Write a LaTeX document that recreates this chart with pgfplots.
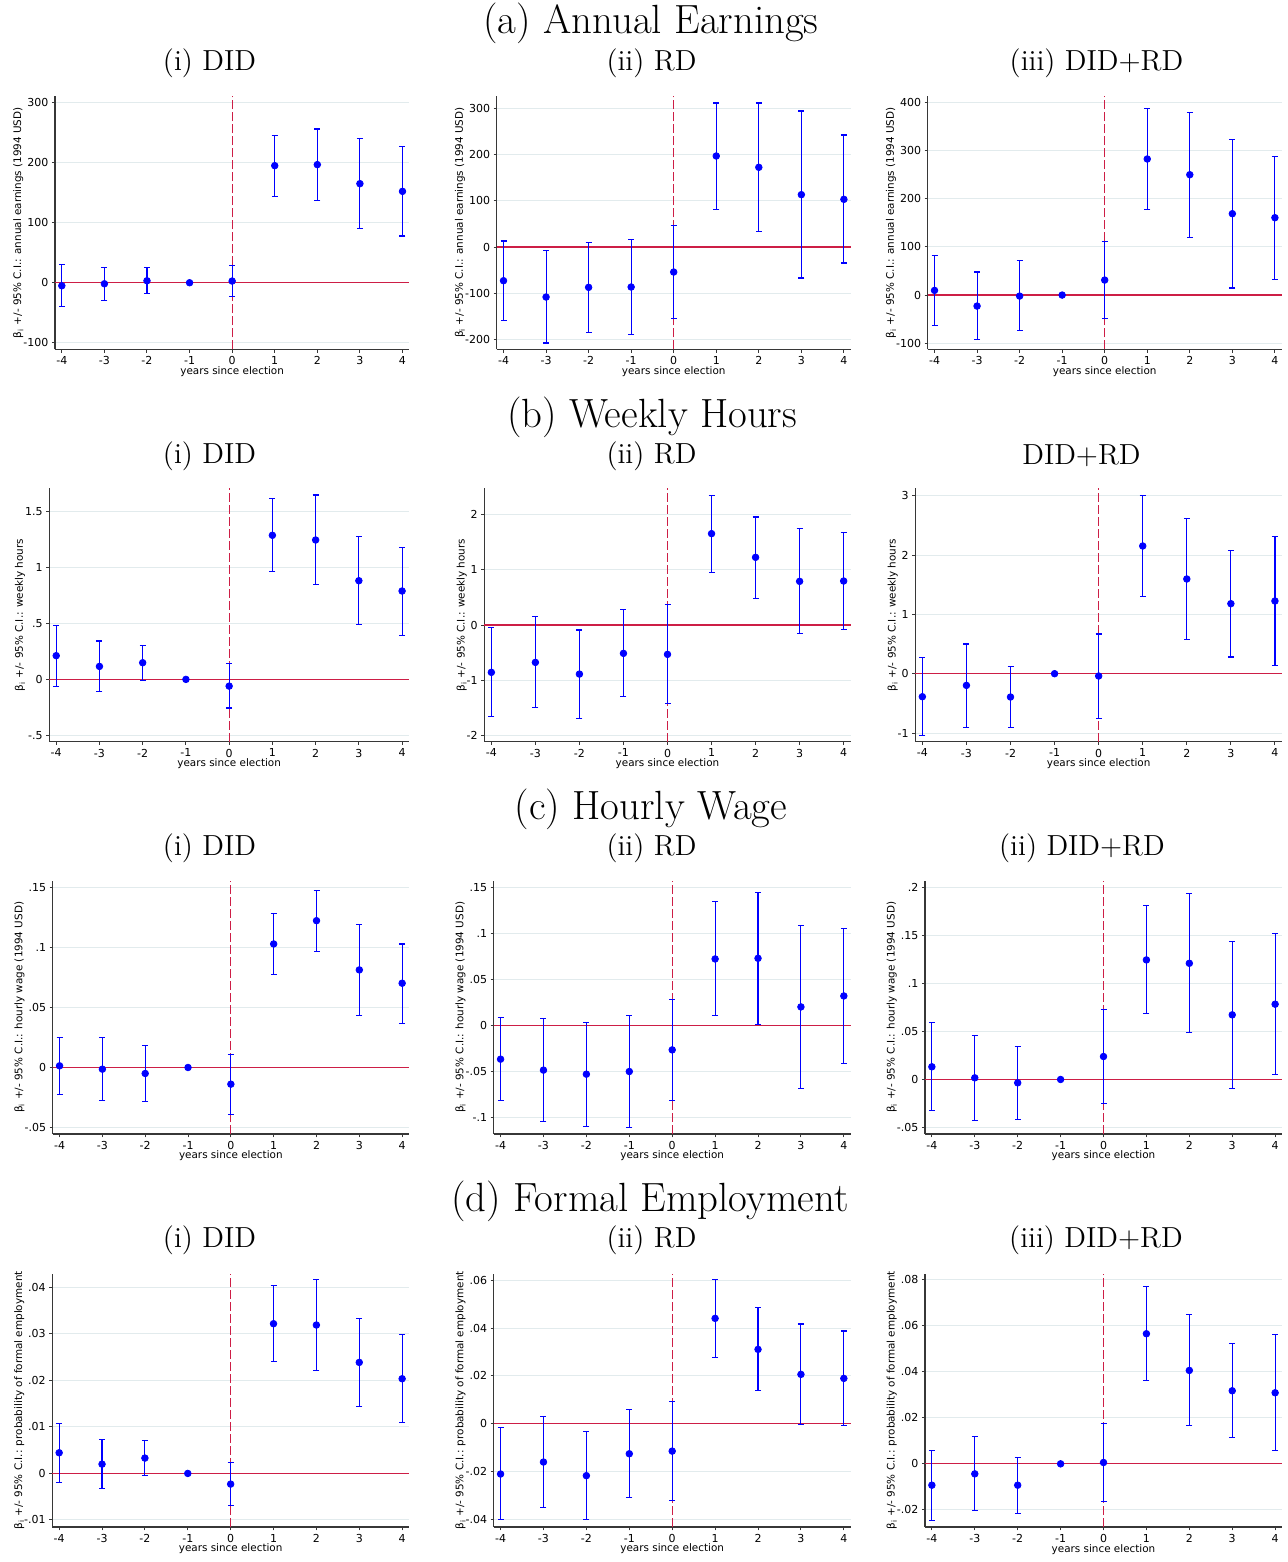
\documentclass[border=0pt]{standalone}
\usepackage{fontspec}
\usepackage{pgfplots}
\usepackage{pgfplotstable}
\pgfplotsset{compat=1.18}
\newfontfamily\dejavu{DejaVu Sans}
\newcommand{\tickfont}{\dejavu\fontsize{5.5}{6.6}\selectfont}
\newcommand{\labfont}{\dejavu\fontsize{5.2}{6.2}\selectfont}
\newcommand{\ttlfont}{\fontsize{20.4}{24}\selectfont}
\newcommand{\subfont}{\fontsize{14.5}{17}\selectfont}
\definecolor{zl}{RGB}{205,30,70}
\definecolor{gridc}{RGB}{226,235,237}
\definecolor{axgray}{RGB}{55,55,55}

\pgfplotstableread{
x y lo hi
-4 -5 -39.4 30
-3 -1.7 -29 25.6
-2 3.3 -18.3 25
-1 0 0 0
0 2.8 -23.3 29
1 195 143.9 245.6
2 196.7 136.7 256
3 165 90.6 240
4 152.2 77.8 226.7
}\tAa
\pgfplotstableread{
x y lo hi
-4 -72.7 -158.3 12.9
-3 -107.9 -207.2 -7.9
-2 -87 -184.2 9.4
-1 -86.3 -188.5 15.8
0 -54 -154.7 46.8
1 196.4 81.3 310.8
2 172 33.1 310.8
3 113 -66.9 293.5
4 102.9 -34.5 241.7
}\tAb
\pgfplotstableread{
x y lo hi
-4 9.7 -63.1 82.5
-3 -22.9 -92.2 47.9
-2 -2.1 -73.5 71.4
-1 0 0 0
0 31.2 -49.2 111
1 283 177.5 387.7
2 250.3 120 380
3 169.2 14.6 323.9
4 160.9 33.3 287.8
}\tAc
\pgfplotstableread{
x y lo hi
-4 0.212 -0.06 0.483
-3 0.116 -0.107 0.343
-2 0.149 -0.006 0.304
-1 0 0 0
0 -0.06 -0.256 0.14
1 1.288 0.966 1.613
2 1.246 0.849 1.648
3 0.882 0.492 1.279
4 0.79 0.396 1.18
}\tBa
\pgfplotstableread{
x y lo hi
-4 -0.855 -1.657 -0.042
-3 -0.675 -1.494 0.151
-2 -0.886 -1.681 -0.09
-1 -0.512 -1.295 0.277
0 -0.53 -1.416 0.367
1 1.651 0.952 2.343
2 1.223 0.482 1.952
3 0.789 -0.157 1.741
4 0.795 -0.078 1.669
}\tBb
\pgfplotstableread{
x y lo hi
-4 -0.388 -1.039 0.27
-3 -0.197 -0.904 0.5
-2 -0.393 -0.904 0.118
-1 0 0 0
0 -0.039 -0.753 0.669
1 2.152 1.303 3.006
2 1.596 0.579 2.612
3 1.18 0.281 2.073
4 1.225 0.135 2.315
}\tBc
\pgfplotstableread{
x y lo hi
-4 0.0014 -0.0225 0.025
-3 -0.0014 -0.0275 0.025
-2 -0.005 -0.028 0.0183
-1 0 0 0
0 -0.0139 -0.0388 0.0111
1 0.1029 0.0774 0.1284
2 0.1223 0.0968 0.1476
3 0.0813 0.0436 0.119
4 0.0702 0.0369 0.1029
}\tCa
\pgfplotstableread{
x y lo hi
-4 -0.0369 -0.0821 0.0087
-3 -0.0488 -0.1046 0.0069
-2 -0.0532 -0.1096 0.0025
-1 -0.0503 -0.1111 0.0105
0 -0.0268 -0.0818 0.0282
1 0.072 0.0105 0.1342
2 0.0727 0.0011 0.144
3 0.0199 -0.0687 0.1082
4 0.0318 -0.0412 0.1049
}\tCb
\pgfplotstableread{
x y lo hi
-4 0.0132 -0.0322 0.0593
-3 0.0017 -0.0423 0.0461
-2 -0.0035 -0.0413 0.034
-1 0 0 0
0 0.0239 -0.0246 0.0732
1 0.1245 0.0683 0.181
2 0.121 0.0485 0.1935
3 0.0673 -0.0094 0.1436
4 0.0784 0.0052 0.1522
}\tCc
\pgfplotstableread{
x y lo hi
-4 0.00444 -0.00193 0.01075
-3 0.002 -0.00315 0.00724
-2 0.0033 -0.00043 0.00702
-1 0 0 0
0 -0.00229 -0.0068 0.00236
1 0.03216 0.024 0.04033
2 0.03188 0.02213 0.04162
3 0.02385 0.0144 0.03324
4 0.02034 0.01089 0.02987
}\tDa
\pgfplotstableread{
x y lo hi
-4 -0.021 -0.0401 -0.00167
-3 -0.016 -0.035 0.00293
-2 -0.0217 -0.0401 -0.0032
-1 -0.01254 -0.0308 0.00585
0 -0.01143 -0.0322 0.00948
1 0.04404 0.02787 0.06021
2 0.03108 0.01394 0.04864
3 0.02063 -0.00014 0.04167
4 0.01895 -0.00084 0.03875
}\tDb
\pgfplotstableread{
x y lo hi
-4 -0.00928 -0.0245 0.00594
-3 -0.00435 -0.0203 0.01188
-2 -0.00928 -0.02145 0.00261
-1 0 0 0
0 0.00058 -0.01623 0.01754
1 0.05652 0.03623 0.07696
2 0.04058 0.01667 0.06478
3 0.03174 0.0113 0.05232
4 0.03087 0.00565 0.05623
}\tDc

\pgfplotsset{
  pan/.style={
    scale only axis, anchor=north west, clip=false,
    height=126.7pt,
    xmin=-4.16, xmax=4.16,
    axis lines*=left,
    axis line style={draw=axgray, line width=0.7pt},
    xtick={-4,-3,-2,-1,0,1,2,3,4},
    xticklabels={-4,-3,-2,-1,0,1,2,3,4},
    scaled y ticks=false, scaled x ticks=false,
    tick align=outside, major tick length=1.6pt,
    tick style={draw=axgray, line width=0.5pt},
    ymajorgrids, grid style={draw=gridc, line width=0.5pt},
    tick label style={font=\tickfont},
    xticklabel style={inner sep=1.8pt},
    yticklabel style={inner sep=1.5pt},
    xlabel={years since election},
    label style={font=\labfont},
    xlabel style={at={(axis description cs:0.5,0)}, anchor=center, yshift=-11pt},
    ylabel style={yshift=-5pt},
  },
}
\newcommand{\panel}[9]{%
\begin{axis}[pan, at={(#1pt,-#2pt)}, width=#3pt, ymin=#4, ymax=#5,
  ytick={#6}, yticklabels={#7},
  ylabel={β\textsubscript{i} +/- 95\% C.I.: #8}]
\addplot[zl, line width=0.6pt] coordinates {(-4.16,0) (4.16,0)};
\addplot[zl, line width=0.6pt, dash pattern=on 4.5pt off 1.5pt] coordinates {(0,#4) (0,#5)};
\addplot[blue, only marks, mark=*, mark size=1.65pt,
  error bars/.cd, y dir=both, y explicit, error mark=-,
  error mark options={rotate=90, blue, line width=0.55pt, mark size=1.5pt},
  error bar style={blue, line width=0.55pt}]
  table[x=x, y=y, y error plus expr=\thisrow{hi}-(\thisrow{y}), y error minus expr=\thisrow{y}-(\thisrow{lo})] {#9};
\end{axis}}

\begin{document}
\begin{tikzpicture}
\path[use as bounding box] (0,0) rectangle (644pt,-781pt);
% titles
\node[font=\ttlfont, inner sep=0] at (325.5pt,-11.75pt) {(a) Annual Earnings};
\node[font=\subfont, inner sep=0] at (104.75pt,-31.5pt) {(i) DID};
\node[font=\subfont, inner sep=0] at (325.75pt,-31.5pt) {(ii) RD};
\node[font=\subfont, inner sep=0] at (548.25pt,-31.5pt) {(iii) DID+RD};
\node[font=\ttlfont, inner sep=0] at (326pt,-208.5pt) {(b) Weekly Hours};
\node[font=\subfont, inner sep=0] at (104.75pt,-228pt) {(i) DID};
\node[font=\subfont, inner sep=0] at (325.75pt,-228pt) {(ii) RD};
\node[font=\subfont, inner sep=0] at (540.75pt,-228pt) {DID+RD};
\node[font=\ttlfont, inner sep=0] at (325.5pt,-404.5pt) {(c) Hourly Wage};
\node[font=\subfont, inner sep=0] at (104.75pt,-424pt) {(i) DID};
\node[font=\subfont, inner sep=0] at (325.75pt,-424pt) {(ii) RD};
\node[font=\subfont, inner sep=0] at (541pt,-424pt) {(ii) DID+RD};
\node[font=\ttlfont, inner sep=0] at (325pt,-600.75pt) {(d) Formal Employment};
\node[font=\subfont, inner sep=0] at (104.75pt,-620pt) {(i) DID};
\node[font=\subfont, inner sep=0] at (325.75pt,-620pt) {(ii) RD};
\node[font=\subfont, inner sep=0] at (548pt,-620pt) {(iii) DID+RD};
% row a
\panel{27.5}{48}{177.15}{-111}{311}{-100,0,100,200,300}{-100,0,100,200,300}{annual earnings (1994 USD)}{\tAa}
\panel{248.35}{48}{177}{-220.9}{325.9}{-200,-100,0,100,200,300}{-200,-100,0,100,200,300}{annual earnings (1994 USD)}{\tAb}
\panel{463.85}{48}{177}{-113}{414}{-100,0,100,200,300,400}{-100,0,100,200,300,400}{annual earnings (1994 USD)}{\tAc}
% row b
\panel{24.65}{244.15}{179.85}{-0.557}{1.708}{-0.5,0,0.5,1,1.5}{-.5,0,.5,1,1.5}{weekly hours}{\tBa}
\panel{242.15}{244.15}{183.2}{-2.108}{2.47}{-2,-1,0,1,2}{-2,-1,0,1,2}{weekly hours}{\tBb}
\panel{457.65}{244.15}{183.35}{-1.146}{3.124}{-1,0,1,2,3}{-1,0,1,2,3}{weekly hours}{\tBc}
% row c
\panel{26.35}{440.35}{178.15}{-0.0555}{0.1556}{-0.05,0,0.05,0.1,0.15}{-.05,0,.05,.1,.15}{hourly wage (1994 USD)}{\tCa}
\panel{246.85}{440.35}{178.5}{-0.1183}{0.157}{-0.1,-0.05,0,0.05,0.1,0.15}{-.1,-.05,0,.05,.1,.15}{hourly wage (1994 USD)}{\tCb}
\panel{462.5}{440.35}{178.5}{-0.0569}{0.207}{-0.05,0,0.05,0.1,0.15,0.2}{-.05,0,.05,.1,.15,.2}{hourly wage (1994 USD)}{\tCc}
% row d
\panel{26.15}{636.85}{178.35}{-0.01153}{0.0429}{-0.01,0,0.01,0.02,0.03,0.04}{-.01,0,.01,.02,.03,.04}{probability of formal employment}{\tDa}
\panel{246.85}{636.85}{178.5}{-0.0432}{0.0627}{-0.04,-0.02,0,0.02,0.04,0.06}{-.04,-.02,0,.02,.04,.06}{probability of formal employment}{\tDb}
\panel{462.5}{636.85}{178.5}{-0.0275}{0.0826}{-0.02,0,0.02,0.04,0.06,0.08}{-.02,0,.02,.04,.06,.08}{probability of formal employment}{\tDc}
\end{tikzpicture}
\end{document}
